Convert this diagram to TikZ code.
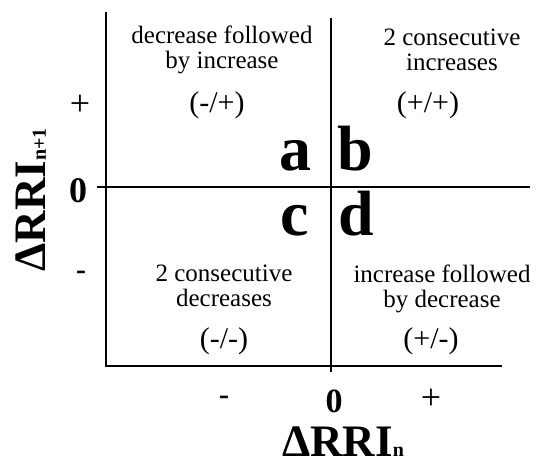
\documentclass[tikz,border=0pt]{standalone}
\usepackage{fontspec}
\setmainfont{Liberation Serif}

\begin{document}
\begin{tikzpicture}[x=1pt, y=-1pt,
    axisline/.style={line width=2.6pt},
    quadtext/.style={font=\fontsize{25}{25}\selectfont, align=center, inner sep=0pt},
    signtext/.style={font=\fontsize{30}{30}\selectfont, inner sep=0pt},
    quadletter/.style={font=\fontsize{64}{64}\selectfont\bfseries, inner sep=0pt},
    ticklabel/.style={font=\fontsize{36}{36}\selectfont, inner sep=0pt},
    axislabel/.style={font=\fontsize{45}{45}\selectfont\bfseries, inner sep=0pt}]
  % Picture frame: 536 x 465 px
  \useasboundingbox (0,0) rectangle (536,465);

  % Axis end points
  \coordinate (Ltop) at (106,12);
  \coordinate (Lbot) at (106,366);
  \coordinate (Mtop) at (331,18);
  \coordinate (Mbot) at (331,372);
  \coordinate (Hleft) at (97,187);
  \coordinate (Hright) at (530,187);
  \coordinate (Bright) at (502,366);

  % Axes and quadrant dividers
  \draw[axisline] (Ltop) -- (Lbot) -- (Bright);
  \draw[axisline] (Mtop) -- (Mbot);
  \draw[axisline] (Hleft) -- (Hright);

  % Quadrant descriptions
  \node[quadtext] (descA) at (222,50) {decrease followed\\by increase};
  \node[quadtext] (descB) at (452,50) {2 consecutive\\increases};
  \node[quadtext] (descC) at (224,286) {2 consecutive\\decreases};
  \node[quadtext] (descD) at (442,289) {increase followed\\by decrease};

  % Sign pairs
  \node[signtext] (signA) at (217,105) {(-/+)};
  \node[signtext] (signB) at (428,105) {(+/+)};
  \node[signtext] (signC) at (224,341) {(-/-)};
  \node[signtext] (signD) at (431,341) {(+/-)};

  % Quadrant letters
  \node[quadletter, anchor=base east] (qa) at (312,171) {a};
  \node[quadletter, anchor=base west] (qb) at (337,171) {b};
  \node[quadletter, anchor=base east] (qc) at (309,236) {c};
  \node[quadletter, anchor=base west] (qd) at (338,236) {d};

  % Tick labels, vertical axis
  \node[ticklabel] (yplus) at (80,105) {+};
  \node[ticklabel, font=\fontsize{36}{36}\selectfont\bfseries] (yzero) at (78,191) {0};
  \node[ticklabel, font=\fontsize{30}{30}\selectfont\bfseries] (yminus) at (81,275) {-};

  % Tick labels, horizontal axis
  \node[ticklabel, font=\fontsize{30}{30}\selectfont\bfseries] (xminus) at (224,400) {-};
  \node[ticklabel, font=\fontsize{34}{34}\selectfont\bfseries] (xzero) at (334,401) {0};
  \node[ticklabel] (xplus) at (431,399) {+};

  % Axis titles
  \node[axislabel, anchor=base west] (xtitle) at (282,456)
    {ΔRRI{\fontsize{20}{20}\selectfont n}};
  \node[axislabel, rotate=90] (ytitle) at (31,200)
    {ΔRRI{\fontsize{20}{20}\selectfont n+1}};
\end{tikzpicture}
\end{document}
